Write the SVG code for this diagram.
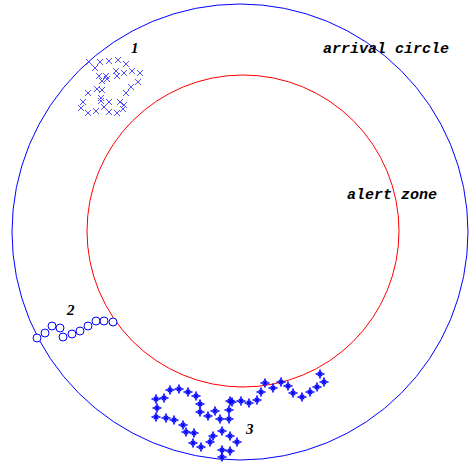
<svg xmlns="http://www.w3.org/2000/svg" width="469" height="463" viewBox="0 0 469 463">
<style>
.lbl{font-family:"Liberation Mono",monospace;font-style:italic;font-weight:bold;font-size:15px;fill:#000}
.num{font-family:"Liberation Serif",serif;font-style:italic;font-weight:bold;font-size:15px;fill:#000}
.xm{stroke:#5050ff;stroke-width:1;fill:none}
.om{stroke:#0000ff;stroke-width:1;fill:#fff}
.st{stroke:#0000ff;stroke-width:1.6;fill:none}
</style>
<defs>
<path id="xmk" d="M-3,-3L3,3M-3,3L3,-3"/>
<g id="smk"><path d="M-4.5,0H4.5M0,-4.5V4.5"/><path d="M-2.2,-2.2L2.2,2.2M-2.2,2.2L2.2,-2.2" stroke-width="1.2"/></g>
</defs>
<rect width="469" height="463" fill="#fff"/>
<g id="arrival-circle"><circle cx="240" cy="232" r="228" fill="none" stroke="#0000ff" stroke-width="1"/></g>
<g id="alert-zone"><circle cx="243" cy="231" r="156" fill="none" stroke="#ff0000" stroke-width="1"/></g>
<g id="cluster1" class="xm">
<use href="#xmk" x="89" y="62"/><use href="#xmk" x="100" y="62"/><use href="#xmk" x="109" y="61"/><use href="#xmk" x="118" y="60"/><use href="#xmk" x="126" y="64"/>
<use href="#xmk" x="95" y="68"/><use href="#xmk" x="99" y="76"/><use href="#xmk" x="106" y="76"/><use href="#xmk" x="107" y="79"/><use href="#xmk" x="116" y="71"/>
<use href="#xmk" x="117" y="76"/><use href="#xmk" x="124" y="73"/><use href="#xmk" x="132" y="71"/><use href="#xmk" x="140" y="73"/><use href="#xmk" x="102" y="81"/>
<use href="#xmk" x="138" y="82"/><use href="#xmk" x="131" y="87"/><use href="#xmk" x="97" y="89"/><use href="#xmk" x="102" y="90"/><use href="#xmk" x="88" y="93"/>
<use href="#xmk" x="126" y="93"/><use href="#xmk" x="101" y="98"/><use href="#xmk" x="101" y="101"/><use href="#xmk" x="109" y="102"/><use href="#xmk" x="120" y="102"/>
<use href="#xmk" x="83" y="102"/><use href="#xmk" x="104" y="107"/><use href="#xmk" x="124" y="105"/><use href="#xmk" x="81" y="108"/><use href="#xmk" x="88" y="113"/>
<use href="#xmk" x="96" y="111"/><use href="#xmk" x="109" y="112"/><use href="#xmk" x="117" y="113"/><use href="#xmk" x="123" y="109"/>
</g>
<g id="cluster2" class="om">
<circle cx="37" cy="338" r="4"/><circle cx="45" cy="333" r="4"/><circle cx="52" cy="326" r="4"/><circle cx="60" cy="328" r="4"/><circle cx="63" cy="337" r="4"/>
<circle cx="72" cy="334" r="4"/><circle cx="80" cy="331" r="4"/><circle cx="88" cy="326" r="4"/><circle cx="96" cy="321" r="4"/><circle cx="104" cy="321" r="4"/><circle cx="113" cy="322" r="4"/>
</g>
<g id="cluster3" class="st">
<use href="#smk" x="170" y="390"/><use href="#smk" x="179" y="389"/><use href="#smk" x="188" y="392"/><use href="#smk" x="196" y="396"/><use href="#smk" x="156" y="399"/>
<use href="#smk" x="164" y="398"/><use href="#smk" x="200" y="404"/><use href="#smk" x="157" y="408"/><use href="#smk" x="200" y="412"/><use href="#smk" x="208" y="416"/>
<use href="#smk" x="215" y="411"/><use href="#smk" x="230" y="401"/><use href="#smk" x="229" y="410"/><use href="#smk" x="220" y="419"/><use href="#smk" x="229" y="419"/>
<use href="#smk" x="156" y="417"/><use href="#smk" x="166" y="418"/><use href="#smk" x="174" y="420"/><use href="#smk" x="183" y="425"/><use href="#smk" x="186" y="432"/>
<use href="#smk" x="194" y="433"/><use href="#smk" x="213" y="436"/><use href="#smk" x="222" y="431"/><use href="#smk" x="230" y="436"/><use href="#smk" x="237" y="442"/>
<use href="#smk" x="193" y="443"/><use href="#smk" x="201" y="447"/><use href="#smk" x="210" y="442"/><use href="#smk" x="222" y="450"/><use href="#smk" x="230" y="451"/><use href="#smk" x="222" y="457"/>
<use href="#smk" x="265" y="383"/><use href="#smk" x="273" y="388"/><use href="#smk" x="281" y="382"/><use href="#smk" x="288" y="386"/><use href="#smk" x="320" y="374"/>
<use href="#smk" x="324" y="382"/><use href="#smk" x="317" y="387"/><use href="#smk" x="310" y="392"/><use href="#smk" x="302" y="397"/><use href="#smk" x="293" y="393"/>
<use href="#smk" x="261" y="392"/><use href="#smk" x="257" y="400"/><use href="#smk" x="249" y="403"/><use href="#smk" x="241" y="401"/><use href="#smk" x="232" y="402"/>
</g>
<g id="labels">
<text class="lbl" x="323" y="53">arrival circle</text>
<text class="lbl" x="347" y="199">alert zone</text>
<text class="num" x="131" y="53">1</text>
<text class="num" x="67" y="315">2</text>
<text class="num" x="246" y="434">3</text>
</g>
</svg>
